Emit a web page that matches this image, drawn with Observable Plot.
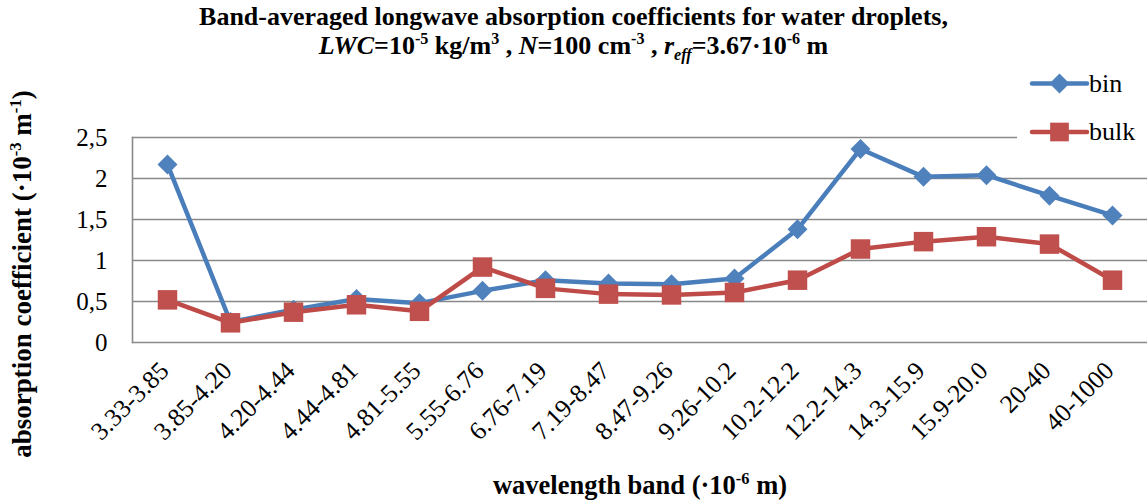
<!DOCTYPE html>
<html><head><meta charset="utf-8">
<script src="https://cdn.jsdelivr.net/npm/d3@7"></script>
<script src="https://cdn.jsdelivr.net/npm/@observablehq/plot@0.6"></script>
<style>
body{margin:0;background:#fff;}
#wrap{position:relative;width:1147px;height:504px;overflow:hidden;font-family:"Liberation Serif","Times New Roman",serif;color:#000;}
.abs{position:absolute;}
sup,sub{font-size:0.62em;line-height:0;}
</style></head><body>
<div id="wrap">
  <div id="chart" class="abs" style="left:0;top:0"></div>
  <div class="abs" style="left:0;top:2px;width:1147px;text-align:center;font-weight:bold;font-size:26px;line-height:29px;white-space:nowrap;">Band-averaged longwave absorption coefficients for water droplets,<br><i>LWC</i>=10<sup>-5</sup> kg/m<sup>3</sup> , <i>N</i>=100 cm<sup>-3</sup> , <i>r<sub>eff</sub></i>=3.67·10<sup>-6</sup> m</div>
  <div class="abs" style="left:-178px;top:259px;width:400px;height:30px;line-height:30px;text-align:center;transform:rotate(-90deg);font-weight:bold;font-size:27px;white-space:nowrap;">absorption coefficient (·10<sup>-3</sup> m<sup>-1</sup>)</div>
  <div class="abs" style="left:340px;top:470px;width:600px;height:30px;line-height:30px;text-align:center;font-weight:bold;font-size:26.5px;white-space:nowrap;">wavelength band (·10<sup>-6</sup> m)</div>
  <div id="legend" class="abs" style="left:1017px;top:60px;width:130px;height:92px;background:#fff;"></div>
</div>
<script>
const bands = ["3.33-3.85","3.85-4.20","4.20-4.44","4.44-4.81","4.81-5.55","5.55-6.76","6.76-7.19","7.19-8.47","8.47-9.26","9.26-10.2","10.2-12.2","12.2-14.3","14.3-15.9","15.9-20.0","20-40","40-1000"];
const binValues  = [2.17, 0.25, 0.40, 0.53, 0.48, 0.63, 0.76, 0.72, 0.71, 0.78, 1.38, 2.36, 2.02, 2.04, 1.79, 1.55];
const bulkValues = [0.52, 0.24, 0.37, 0.46, 0.38, 0.92, 0.66, 0.59, 0.58, 0.61, 0.76, 1.14, 1.23, 1.29, 1.20, 0.76];
const yTicks = [0, 0.5, 1, 1.5, 2, 2.5];
const seriesNames = ["bin", "bulk"];

const binData = bands.map((b, i) => ({band: b, value: binValues[i]}));
const bulkData = bands.map((b, i) => ({band: b, value: bulkValues[i]}));

const SERIF = "'Liberation Serif', 'Times New Roman', serif";
const BLUE = "#4A7EBB", BLUE_M = "#4F81BD", RED = "#BE4B48", RED_M = "#C0504D", GRID = "#898989";

const chart = Plot.plot({
  width: 1147, height: 504,
  marginLeft: 132, marginRight: 0, marginTop: 137, marginBottom: 162,
  style: {fontFamily: SERIF, background: "transparent", color: "#000", overflow: "visible"},
  x: {type: "point", domain: bands, padding: 0.5, label: null},
  y: {domain: [0, 2.5], label: null},
  marks: [
    Plot.ruleY(yTicks, {stroke: GRID, strokeWidth: 1.6}),
    Plot.frame({anchor: "left", stroke: GRID, strokeWidth: 1.6}),
    Plot.axisY(yTicks, {tickSize: 0, tickPadding: 25, fontSize: 25, fontFamily: SERIF, tickFormat: d => String(d).replace(".", ","), label: null}),
    Plot.axisX({tickSize: 0, tickRotate: -45, tickPadding: 24, fontSize: 25.5, fontFamily: SERIF, dx: -3, label: null}),
    Plot.line(binData, {x: "band", y: "value", stroke: BLUE, strokeWidth: 4.5, strokeLinejoin: "round"}),
    Plot.dot(binData, {x: "band", y: "value", symbol: "diamond2", r: 9, fill: BLUE_M}),
    Plot.line(bulkData, {x: "band", y: "value", stroke: RED, strokeWidth: 4.5, strokeLinejoin: "round"}),
    Plot.dot(bulkData, {x: "band", y: "value", symbol: "square", r: 11, fill: RED_M})
  ]
});
document.getElementById("chart").appendChild(chart);

// legend
const lg = d3.select("#legend").append("svg").attr("width", 130).attr("height", 92)
  .style("font-family", SERIF);
const items = [
  {name: seriesNames[0], line: BLUE, mark: BLUE_M, y: 23.5, sym: d3.symbolDiamond2, size: 9 * 9 * Math.PI},
  {name: seriesNames[1], line: RED, mark: RED_M, y: 72, sym: d3.symbolSquare, size: 18.7 * 18.7}
];
items.forEach(it => {
  lg.append("line").attr("x1", 15).attr("x2", 70).attr("y1", it.y).attr("y2", it.y)
    .attr("stroke", it.line).attr("stroke-width", 4.5).attr("stroke-linecap", "round");
  lg.append("path").attr("d", d3.symbol(it.sym, it.size)()).attr("transform", `translate(42.5,${it.y})`).attr("fill", it.mark);
  lg.append("text").attr("x", 72).attr("y", it.y + 8).attr("font-size", 26).text(it.name);
});
</script>
</body></html>
